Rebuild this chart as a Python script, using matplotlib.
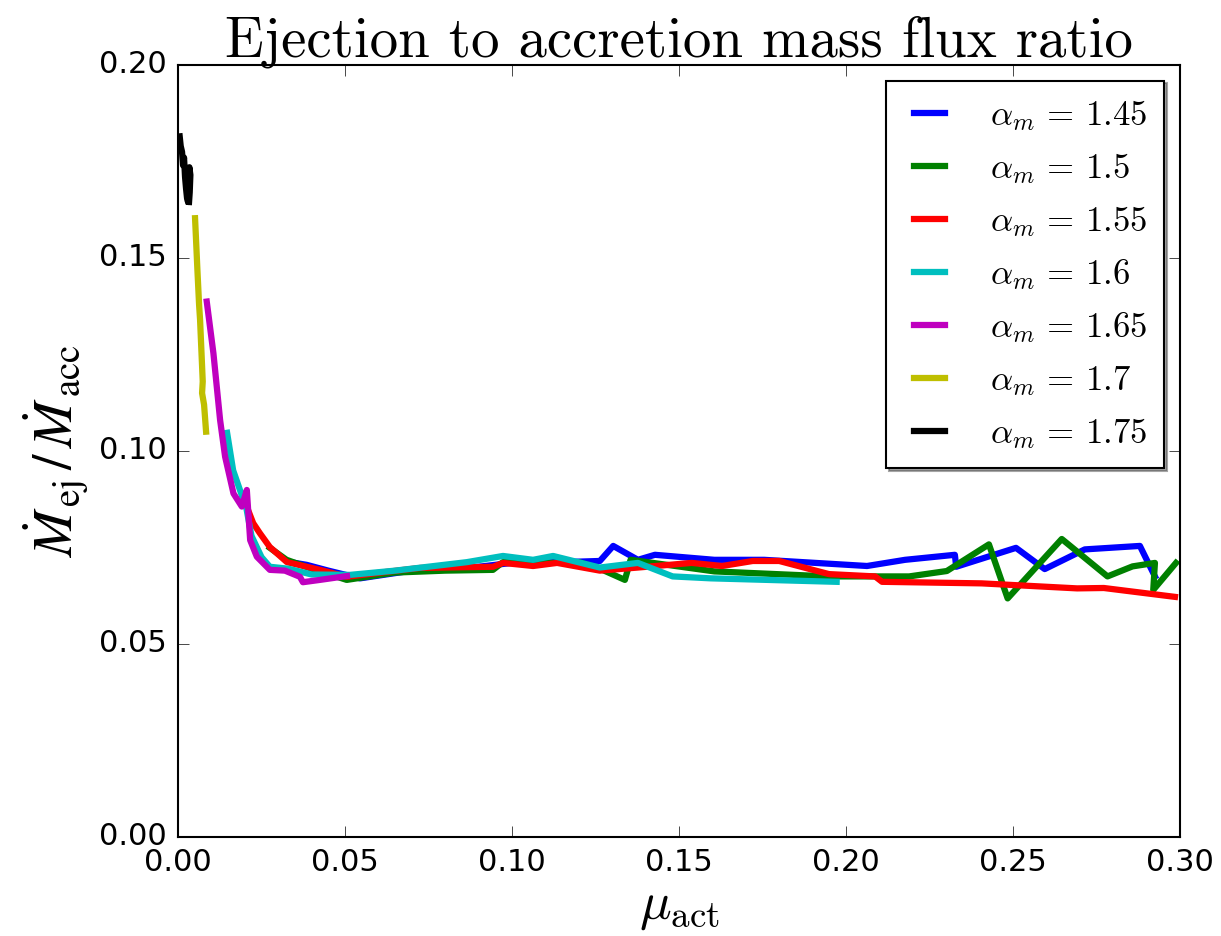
import matplotlib

matplotlib.use("Agg")
import matplotlib.pyplot as plt

plt.style.use("classic")
plt.rcParams.update(
    {
        "mathtext.fontset": "cm",
        "axes.unicode_minus": False,
        "xtick.labelsize": 22,
        "ytick.labelsize": 22,
        "xtick.major.size": 8,
        "ytick.major.size": 8,
        "xtick.major.pad": 8,
        "ytick.major.pad": 8,
    }
)

# --- data ---
alpha_m = ["1.45", "1.5", "1.55", "1.6", "1.65", "1.7", "1.75"]
colors = ["b", "g", "r", "c", "m", "y", "k"]

mu_145 = [0.0350, 0.0385, 0.0450, 0.0545, 0.0700, 0.0900, 0.1000, 0.1150, 0.1263,
          0.1303, 0.1377, 0.1428, 0.1606, 0.1755, 0.2063, 0.2177, 0.2326, 0.2330,
          0.2509, 0.2595, 0.2715, 0.2880, 0.2925]
r_145 = [0.0710, 0.0705, 0.0690, 0.0670, 0.0690, 0.0700, 0.0710, 0.0712, 0.0715,
         0.0754, 0.0718, 0.0731, 0.0718, 0.0718, 0.0702, 0.0718, 0.0731, 0.0700,
         0.0749, 0.0694, 0.0745, 0.0754, 0.0675]

mu_150 = [0.0275, 0.0325, 0.0400, 0.0505, 0.0650, 0.0800, 0.0943, 0.0973, 0.1100,
          0.1200, 0.1263, 0.1338, 0.1355, 0.1606, 0.1949, 0.2189, 0.2302, 0.2428,
          0.2484, 0.2646, 0.2783, 0.2858, 0.2925, 0.2920, 0.2988]
r_150 = [0.0749, 0.0718, 0.0695, 0.0666, 0.0685, 0.0690, 0.0692, 0.0712, 0.0710,
         0.0712, 0.0695, 0.0666, 0.0718, 0.0688, 0.0675, 0.0675, 0.0689, 0.0758,
         0.0618, 0.0772, 0.0675, 0.0701, 0.0710, 0.0640, 0.0710]

mu_155 = [0.0195, 0.0225, 0.0245, 0.0275, 0.0326, 0.0425, 0.0506, 0.0626, 0.0725,
          0.0943, 0.0973, 0.1063, 0.1135, 0.1263, 0.1377, 0.1538, 0.1629, 0.1721,
          0.1800, 0.1949, 0.2087, 0.2108, 0.2406, 0.2692, 0.2772, 0.2985]
r_155 = [0.0880, 0.0813, 0.0787, 0.0751, 0.0712, 0.0692, 0.0674, 0.0687, 0.0697,
         0.0700, 0.0710, 0.0702, 0.0710, 0.0690, 0.0698, 0.0710, 0.0702, 0.0715,
         0.0715, 0.0681, 0.0675, 0.0661, 0.0657, 0.0644, 0.0645, 0.0622]

mu_160 = [0.0147, 0.0165, 0.0185, 0.0205, 0.0220, 0.0250, 0.0275, 0.0330, 0.0400,
          0.0515, 0.0650, 0.0865, 0.0973, 0.1063, 0.1123, 0.1263, 0.1377, 0.1481,
          0.1595, 0.1972]
r_160 = [0.1047, 0.0950, 0.0900, 0.0850, 0.0780, 0.0725, 0.0700, 0.0695, 0.0680,
         0.0679, 0.0690, 0.0712, 0.0728, 0.0718, 0.0728, 0.0698, 0.0710, 0.0675,
         0.0670, 0.0661]

mu_165 = [0.0086, 0.0106, 0.0126, 0.0141, 0.0166, 0.0191, 0.0206, 0.0216, 0.0236,
          0.0275, 0.0320, 0.0365, 0.0374, 0.0425, 0.0506]
r_165 = [0.1387, 0.1253, 0.1080, 0.0985, 0.0890, 0.0856, 0.0899, 0.0769, 0.0726,
         0.0692, 0.0690, 0.0674, 0.0660, 0.0666, 0.0676]

mu_170 = [0.0051, 0.0058, 0.0063, 0.0066, 0.0070, 0.0074, 0.0072, 0.0078, 0.0084]
r_170 = [0.1603, 0.1470, 0.1380, 0.1340, 0.1260, 0.1180, 0.1150, 0.1120, 0.1050]

mu_175 = [0.0005, 0.0008, 0.0012, 0.0015, 0.0018, 0.0021, 0.0024, 0.0027, 0.0030,
          0.0031, 0.0034, 0.0037, 0.0035, 0.0033]
r_175 = [0.1815, 0.1790, 0.1775, 0.1740, 0.1760, 0.1710, 0.1680, 0.1655, 0.1645,
         0.1700, 0.1735, 0.1715, 0.1670, 0.1645]

series = [
    (mu_145, r_145),
    (mu_150, r_150),
    (mu_155, r_155),
    (mu_160, r_160),
    (mu_165, r_165),
    (mu_170, r_170),
    (mu_175, r_175),
]

fig = plt.figure(figsize=(12.21, 9.36), dpi=100, facecolor="white")
ax = fig.add_axes([0.1458, 0.1058, 0.8206, 0.8248])

for (mu, ratio), a, c in zip(series, alpha_m, colors):
    ax.plot(mu, ratio, color=c, lw=4.5, label=r"$\alpha_m\, =\, %s$" % a)

ax.set_xlim(0, 0.30)
ax.set_ylim(0, 0.20)
ax.set_xticks([0.00, 0.05, 0.10, 0.15, 0.20, 0.25, 0.30])
ax.set_yticks([0.00, 0.05, 0.10, 0.15, 0.20])
ax.set_xticklabels(["0.00", "0.05", "0.10", "0.15", "0.20", "0.25", "0.30"])
ax.set_yticklabels(["0.00", "0.05", "0.10", "0.15", "0.20"])
for spine in ax.spines.values():
    spine.set_linewidth(1.5)

ax.set_title("Ejection to accretion mass flux ratio", fontfamily="cmr10",
             fontsize=41, pad=6)
ax.set_xlabel(r"$\mu_{\rm act}$", fontsize=38, labelpad=2)
ax.set_ylabel(r"$\dot M_{\rm ej}\,/\,\dot M_{\rm acc}$", fontsize=40,
              math_fontfamily="stix", labelpad=6)

leg = ax.legend(loc="upper right", fontsize=25, shadow=True, fancybox=False,
                handlelength=1.5, handletextpad=1.0, labelspacing=0.52,
                borderpad=0.5, borderaxespad=0.45, numpoints=2)
leg.get_frame().set_linewidth(1.5)
leg.get_frame().set_edgecolor("black")

fig.savefig("out.png", dpi=100, facecolor="white")
